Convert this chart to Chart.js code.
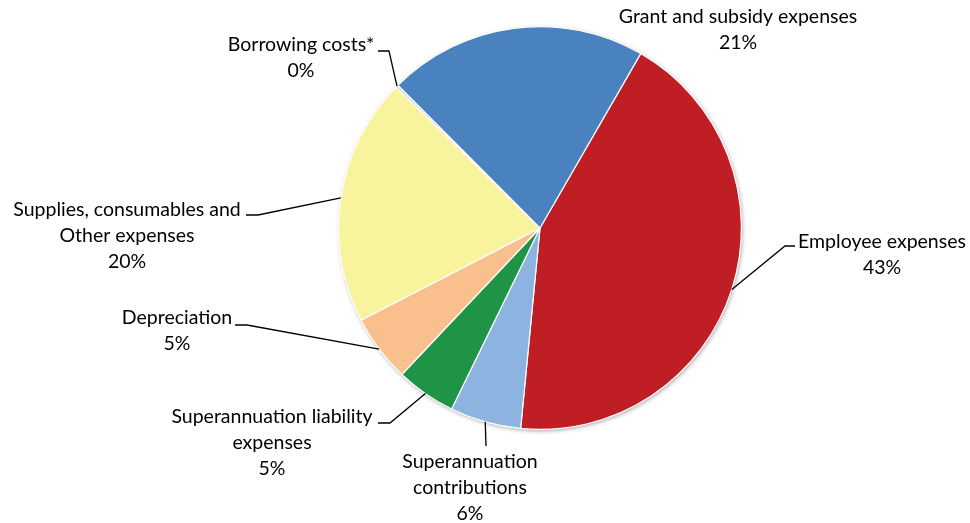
<!DOCTYPE html>
<html>
<head>
<meta charset="utf-8">
<script src="https://cdn.jsdelivr.net/npm/chart.js@4/dist/chart.umd.min.js"></script>
<style>
  html, body { margin: 0; padding: 0; background: #ffffff; }
  #wrap { width: 970px; height: 523px; position: relative; }
</style>
</head>
<body>
<div id="wrap"><canvas id="c" width="970" height="523"></canvas></div>
<script>
// Expense categories (pie order, clockwise from Employee expenses)
const categories = [
  ['Employee expenses'],
  ['Superannuation', 'contributions'],
  ['Superannuation liability', 'expenses'],
  ['Depreciation'],
  ['Supplies, consumables and', 'Other expenses'],
  ['Borrowing costs*'],
  ['Grant and subsidy expenses']
];
// Share of total expenses (%)
const shares = [43.2, 5.7, 4.8, 5.4, 19.9, 0.2, 20.8];

const sliceColors = ['#BF1E24', '#8DB3E0', '#1F9446', '#F9C08E', '#F8F49E', '#C9D3E6', '#4A81BF'];

// Label placement: text centre x, first line y, and leader line (stub start x, elbow x, elbow y)
const labelLayout = [
  { x: 882, y: 242, stub: [795, 785, 246] },
  { x: 470, y: 462, stub: null, elbow: [486, 446] },
  { x: 272, y: 417, stub: [378, 390, 423] },
  { x: 177, y: 318, stub: [235, 247, 325] },
  { x: 127, y: 210, stub: [246, 258, 215] },
  { x: 301, y: 45, stub: [378, 389, 51] },
  { x: 738, y: 17, stub: null }
];

const FONT = '19.5px Lato, "Liberation Sans", sans-serif';
const LINE_H = 26;

const shadowPlugin = {
  id: 'pieShadow',
  beforeDatasetsDraw(chart) {
    const arc = chart.getDatasetMeta(0).data[0];
    if (!arc) return;
    const ctx = chart.ctx;
    ctx.save();
    ctx.shadowColor = 'rgba(0,0,0,0.35)';
    ctx.shadowBlur = 4;
    ctx.shadowOffsetX = 1;
    ctx.shadowOffsetY = 1.5;
    ctx.fillStyle = '#ffffff';
    ctx.beginPath();
    ctx.arc(arc.x, arc.y, arc.outerRadius, 0, Math.PI * 2);
    ctx.fill();
    ctx.restore();
  }
};

const labelPlugin = {
  id: 'sliceLabels',
  afterDatasetsDraw(chart) {
    const ctx = chart.ctx;
    const meta = chart.getDatasetMeta(0);
    const data = chart.data.datasets[0].data;
    ctx.save();
    meta.data.forEach((arc, i) => {
      const lay = labelLayout[i];
      const mid = (arc.startAngle + arc.endAngle) / 2;
      const px = arc.x + Math.cos(mid) * arc.outerRadius;
      const py = arc.y + Math.sin(mid) * arc.outerRadius;
      ctx.strokeStyle = '#000000';
      ctx.lineWidth = 1.3;
      if (lay.stub) {
        ctx.beginPath();
        ctx.moveTo(lay.stub[0], lay.stub[2]);
        ctx.lineTo(lay.stub[1], lay.stub[2]);
        ctx.lineTo(px, py);
        ctx.stroke();
      } else if (lay.elbow) {
        ctx.beginPath();
        ctx.moveTo(lay.elbow[0], lay.elbow[1]);
        ctx.lineTo(px, py);
        ctx.stroke();
      }
      const lines = chart.data.labels[i].concat([Math.round(data[i]) + '%']);
      ctx.fillStyle = '#000000';
      ctx.font = FONT;
      ctx.textAlign = 'center';
      ctx.textBaseline = 'middle';
      lines.forEach((t, k) => ctx.fillText(t, lay.x, lay.y + k * LINE_H));
    });
    ctx.restore();
  }
};

new Chart(document.getElementById('c'), {
  type: 'pie',
  data: {
    labels: categories,
    datasets: [{
      data: shares,
      backgroundColor: sliceColors,
      borderColor: '#ffffff',
      borderWidth: 1.2
    }]
  },
  options: {
    responsive: false,
    animation: false,
    rotation: 30,
    layout: { padding: { left: 338, right: 228, top: 26, bottom: 93 } },
    plugins: {
      legend: { display: false },
      tooltip: { enabled: false },
      title: { display: false }
    }
  },
  plugins: [shadowPlugin, labelPlugin]
});
</script>
</body>
</html>
